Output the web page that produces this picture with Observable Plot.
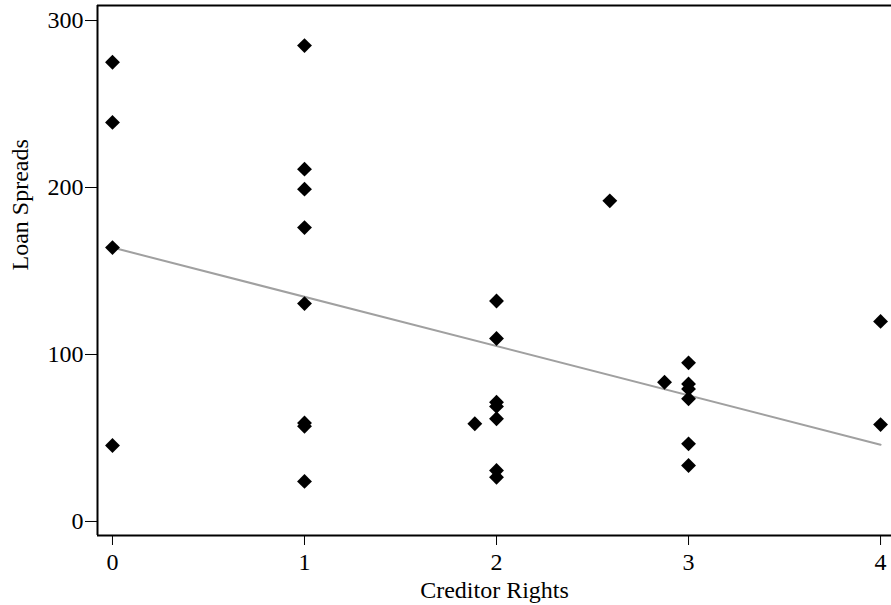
<!DOCTYPE html>
<html>
<head>
<meta charset="utf-8">
<script src="https://cdn.jsdelivr.net/npm/d3@7"></script>
<script src="https://cdn.jsdelivr.net/npm/@observablehq/plot@0.6"></script>
<style>
  html, body { margin: 0; padding: 0; background: #fff; overflow: hidden; }
</style>
</head>
<body>
<div id="chart"></div>
<script>
const creditorRights = [0,0,0,0, 1,1,1,1,1,1,1,1, 1.887, 2,2,2,2,2,2,2, 2.59, 2.875, 3,3,3,3,3,3, 4,4];
const loanSpreads = [275,239,164,45.5, 285,211,199,176,130.5,59,57,24, 58.5, 132,109.6,71.4,68.9,61.5,30.5,26.5, 192, 83.4, 95,82.4,79.4,73.5,46.5,33.5, 119.8,58];
const xTicks = [0,1,2,3,4];
const yTicks = [0,100,200,300];
const xLabel = "Creditor Rights";
const yLabel = "Loan Spreads";

const data = creditorRights.map((x, i) => ({x, y: loanSpreads[i]}));
const xDomain = [-0.078, 4.057];
const yDomain = [-8.4, 309];

const font = "'Liberation Serif', 'Times New Roman', serif";

const chart = Plot.plot({
  width: 891,
  height: 605,
  marginLeft: 97,
  marginRight: 0,
  marginTop: 5,
  marginBottom: 70,
  style: {fontFamily: font, fontSize: "24px", background: "#fff", color: "#000"},
  x: {domain: xDomain, ticks: xTicks, tickSize: 10, tickPadding: 7, label: null, tickFormat: d3.format("d")},
  y: {domain: yDomain, ticks: yTicks, tickSize: 12, tickPadding: 2, label: null, tickFormat: d3.format("d")},
  marks: [
    Plot.linearRegressionY(data, {x: "x", y: "y", ci: 0, stroke: "#a0a0a0", strokeWidth: 2}),
    Plot.dot(data, {x: "x", y: "y", symbol: "diamond2", r: 6.7, fill: "#000", stroke: "none"}),
    Plot.ruleX([xDomain[0]], {stroke: "#000", strokeWidth: 2}),
    Plot.ruleY([yDomain[0], yDomain[1]], {stroke: "#000", strokeWidth: 2}),
    Plot.text([xLabel], {frameAnchor: "bottom", dy: 55, lineAnchor: "middle", fontSize: 24, fill: "#000"}),
    Plot.text([yLabel], {frameAnchor: "left", dx: -77, rotate: -90, lineAnchor: "middle", fontSize: 24, fill: "#000"})
  ]
});
document.getElementById("chart").appendChild(chart);
</script>
</body>
</html>
